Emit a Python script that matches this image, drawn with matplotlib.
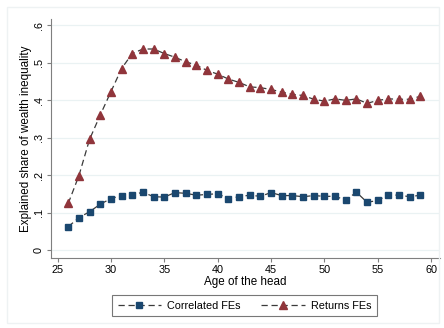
import matplotlib
matplotlib.use("Agg")
import matplotlib.pyplot as plt
from matplotlib.patches import Rectangle

# age of the household head
ages = list(range(26, 60))

# explained share of wealth inequality
correlated_fes = [0.063, 0.087, 0.103, 0.123, 0.138, 0.146, 0.148, 0.155, 0.143, 0.142,
                  0.154, 0.152, 0.147, 0.149, 0.151, 0.138, 0.143, 0.147, 0.144, 0.154,
                  0.146, 0.146, 0.143, 0.146, 0.144, 0.144, 0.134, 0.155, 0.128, 0.133,
                  0.148, 0.147, 0.143, 0.147]
returns_fes = [0.125, 0.199, 0.296, 0.361, 0.423, 0.485, 0.525, 0.537, 0.537, 0.525,
               0.515, 0.503, 0.494, 0.480, 0.470, 0.457, 0.448, 0.436, 0.434, 0.429,
               0.422, 0.416, 0.413, 0.403, 0.398, 0.404, 0.400, 0.404, 0.392, 0.400,
               0.404, 0.403, 0.403, 0.411]

xticks = [25, 30, 35, 40, 45, 50, 55, 60]
yticks = [0, 0.1, 0.2, 0.3, 0.4, 0.5, 0.6]
ytick_labels = ["0", ".1", ".2", ".3", ".4", ".5", ".6"]

plt.rcParams["font.family"] = ["Liberation Sans", "DejaVu Sans"]

fig = plt.figure(figsize=(4.44, 3.28), dpi=100)
fig.patch.set_facecolor("white")
# light outer frame like the stata graph region
fig.add_artist(Rectangle((7 / 444, 5 / 328), 1 - 12 / 444, 1 - 12 / 328,
                         transform=fig.transFigure, fill=False,
                         edgecolor="#eef2f3", lw=1))

ax = fig.add_axes([0.114, 0.214, 0.877, 0.728])

line_kw = dict(color="#3a3a3a", lw=0.9, linestyle=(0, (5, 3)))
ax.plot(ages, correlated_fes, marker="s", markersize=4.6,
        markerfacecolor="#1a476f", markeredgecolor="#1a476f",
        label="Correlated FEs", **line_kw)
ax.plot(ages, returns_fes, marker="^", markersize=5.2,
        markerfacecolor="#90353b", markeredgecolor="#90353b",
        label="Returns FEs", **line_kw)

ax.set_xlim(24.35, 60.83)
ax.set_ylim(-0.02, 0.617)
ax.set_xticks(xticks)
ax.set_yticks(yticks)
ax.set_yticklabels(ytick_labels, rotation=90, va="center")
ax.grid(axis="y", color="#eaf2f3", lw=0.9)
ax.set_axisbelow(True)

for s in ["top", "right"]:
    ax.spines[s].set_visible(False)
for s in ["left", "bottom"]:
    ax.spines[s].set_color("#7f7f7f")
    ax.spines[s].set_linewidth(0.8)
ax.tick_params(colors="#7f7f7f", labelcolor="black", labelsize=7.8,
               length=3, width=0.8, pad=2)

ax.set_xlabel("Age of the head", fontsize=8.4, labelpad=1)
ax.set_ylabel("Explained share of wealth inequality", fontsize=8.4, labelpad=1)

leg = fig.legend(loc="center", bbox_to_anchor=(0.551, 0.0675), ncol=2,
                 fontsize=7.8, frameon=True, fancybox=False,
                 handlelength=4, handletextpad=0.6, columnspacing=1.9,
                 borderpad=0.5)
leg.get_frame().set_edgecolor("#555555")
leg.get_frame().set_linewidth(0.8)

fig.savefig("out.png", dpi=100)
